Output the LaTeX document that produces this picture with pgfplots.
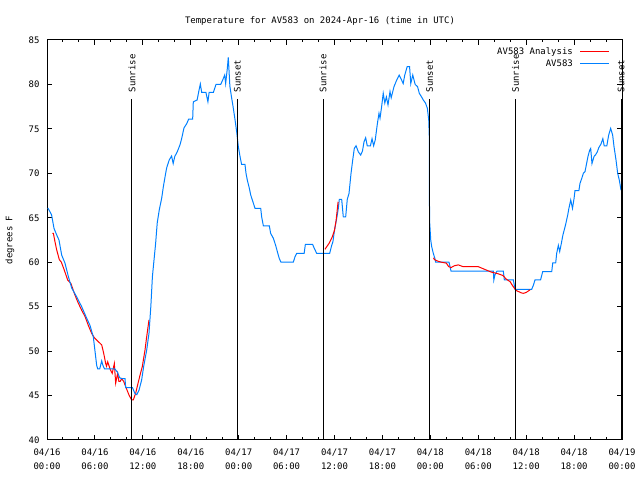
\documentclass[border=0pt]{standalone}
\usepackage{pgfplots}
\pgfplotsset{compat=1.18}
\usepackage{fontspec}
\setmainfont{DejaVu Sans Mono}
\definecolor{gpred}{RGB}{255,0,0}
\definecolor{gpblue}{RGB}{0,128,255}
\newcommand\gf{\fontsize{9}{14}\selectfont}
\begin{document}
\begin{tikzpicture}
\useasboundingbox (0bp,0bp) rectangle (640bp,480bp);
\begin{axis}[
  at={(47bp,40bp)}, anchor=south west,
  scale only axis, width=575bp, height=400bp,
  xmin=0, xmax=72, ymin=40, ymax=85,
  clip=false,
  axis line style={line width=1bp, black},
  tick style={line width=1bp, black},
  tick align=inside,
  major tick length=5bp, minor tick length=2.5bp,
  xtick={0,6,...,72},
  minor x tick num=2,
  xticklabels={{04/16\\00:00},{04/16\\06:00},{04/16\\12:00},{04/16\\18:00},{04/17\\00:00},{04/17\\06:00},{04/17\\12:00},{04/17\\18:00},{04/18\\00:00},{04/18\\06:00},{04/18\\12:00},{04/18\\18:00},{04/19\\00:00}},
  xticklabel style={align=center, font=\gf, yshift=-5bp},
  ytick={40,45,...,85},
  yticklabel style={font=\gf, xshift=-4bp},
  /pgf/number format/assume math mode=true,
  title={Temperature for AV583 on 2024-Apr-16 (time in UTC)},
  title style={font=\gf, at={(0.4748,1)}, anchor=base, yshift=11bp},
  ylabel={degrees F},
  ylabel style={font=\gf, at={(axis description cs:-0.0643,0.5)}, anchor=center},
  legend plot pos=right,
  legend cell align=right,
  legend image code/.code={\draw[#1] (0bp,0bp) -- (29bp,0bp);},
  legend style={at={(1,1)}, anchor=north east, xshift=-12bp, yshift=-7bp,
    draw=none, fill=none, inner sep=0pt, row sep=3bp, column sep=7bp,
    font=\gf, nodes={inner sep=0pt, text height=7bp, text depth=2bp}},
]
\addplot[gpred, line width=1bp] coordinates {
(0.67,63.25)(0.8,63.25)(1.0,62.3)(1.21,61.4)(1.54,60.3)(1.8,60.0)(2.17,59.1)(2.59,58.0)(3.0,57.6)(3.42,56.5)(3.84,55.56)(4.34,54.6)(4.76,53.9)(5.17,52.9)(5.59,52.0)(5.93,51.5)(6.43,51.06)(6.85,50.7)(7.1,49.75)(7.35,48.6)(7.45,48.3)(7.6,48.8)(7.93,47.9)(8.17,47.5)(8.43,48.6)(8.6,46.4)(8.84,47.5)(9.0,46.6)(9.17,46.6)(9.35,46.9)(9.6,46.6)(9.85,46.0)(10.27,45.06)(10.6,44.5)(10.8,44.5)(11.1,45.25)(11.35,46.2)(11.65,47.3)(11.93,48.25)(12.27,50.1)(12.48,51.6)(12.77,53.5)
};
\addlegendentry{AV583 Analysis}
\addplot[gpblue, line width=1bp] coordinates {
(0.1,66.1)(0.3,65.8)(0.58,65.3)(0.88,63.8)(1.2,63.1)(1.5,62.5)(1.84,60.8)(2.25,59.9)(2.67,58.4)(3.09,57.1)(3.72,56.1)(4.34,55.0)(4.97,53.7)(5.38,52.9)(5.8,51.6)(6.22,48.4)(6.35,48.0)(6.6,48.0)(6.85,48.9)(7.0,48.4)(7.2,48.0)(8.5,48.0)(8.84,47.6)(9.1,47.0)(9.35,46.9)(9.77,46.9)(9.85,45.9)(10.7,45.9)(11.0,45.25)(11.25,45.1)(11.52,45.6)(11.85,46.75)(12.1,48.25)(12.48,50.1)(12.77,52.0)(13.0,55.0)(13.2,58.4)(13.4,60.25)(13.6,62.1)(13.8,64.4)(14.06,65.9)(14.36,67.2)(14.57,68.5)(14.78,69.6)(14.98,70.6)(15.3,71.5)(15.6,71.95)(15.8,71.1)(16.0,71.9)(16.3,72.4)(16.65,73.2)(16.86,73.9)(17.15,75.1)(17.5,75.6)(17.74,76.1)(18.24,76.1)(18.32,78.05)(18.8,78.25)(19.0,79.2)(19.2,80.05)(19.37,79.1)(19.9,79.1)(20.15,78.05)(20.3,79.1)(20.83,79.1)(21.16,80.0)(21.75,80.0)(22.0,80.5)(22.25,81.06)(22.37,80.1)(22.58,81.8)(22.7,83.05)(22.9,79.8)(23.1,78.6)(23.3,77.5)(23.55,76.0)(23.76,74.6)(23.96,73.0)(24.17,71.9)(24.37,71.0)(24.79,71.0)(24.92,70.0)(25.08,69.25)(25.34,68.3)(25.51,67.56)(25.71,67.0)(26.05,66.06)(26.76,66.06)(26.88,65.1)(27.09,64.1)(27.84,64.1)(28.0,63.25)(28.34,62.7)(28.63,61.9)(28.84,61.2)(29.09,60.4)(29.3,60.0)(30.84,60.0)(31.05,60.6)(31.26,61.0)(32.2,61.0)(32.35,62.0)(33.26,62.0)(33.47,61.56)(33.77,61.0)(35.4,61.0)(35.65,61.9)(35.8,62.3)(36.0,63.6)(36.27,64.9)(36.48,66.06)(36.6,67.07)(36.9,67.07)(37.1,65.1)(37.4,65.1)(37.6,67.07)(37.82,67.75)(38.07,70.0)(38.28,71.5)(38.48,72.8)(38.7,73.1)(38.99,72.4)(39.28,72.06)(39.5,72.5)(39.7,73.56)(39.9,74.0)(40.1,73.1)(40.5,73.1)(40.7,73.9)(40.9,73.1)(41.1,73.75)(41.37,75.6)(41.57,76.75)(41.7,76.2)(41.9,77.5)(42.1,79.0)(42.3,77.9)(42.5,78.6)(42.7,77.7)(42.95,79.2)(43.1,78.5)(43.45,79.75)(43.79,80.5)(44.1,81.06)(44.3,80.7)(44.6,80.1)(44.8,81.06)(45.1,82.0)(45.4,82.0)(45.55,80.1)(45.8,81.06)(46.1,80.0)(46.4,79.75)(46.62,79.0)(46.9,78.6)(47.12,78.25)(47.4,77.9)(47.63,77.3)(47.8,76.0)(47.87,74.1)(47.9,64.75)(48.05,62.5)(48.17,61.75)(48.37,61.0)(48.58,60.4)(48.67,60.0)(50.34,60.0)(50.59,59.0)(55.89,59.0)(55.95,58.0)(56.1,58.6)(56.35,59.0)(57.14,59.0)(57.27,58.0)(58.4,58.0)(58.6,56.95)(60.69,56.95)(60.9,57.4)(61.1,58.0)(61.8,58.0)(62.07,58.94)(63.2,58.94)(63.33,59.94)(63.7,59.94)(63.82,61.0)(64.03,61.9)(64.2,61.2)(64.4,62.1)(64.6,63.06)(64.93,64.2)(65.2,65.3)(65.35,66.06)(65.58,67.0)(65.8,66.06)(66.0,67.2)(66.11,68.05)(66.6,68.05)(66.74,68.87)(66.95,69.4)(67.16,70.0)(67.37,70.2)(67.5,70.8)(67.74,71.9)(67.95,72.6)(68.08,72.8)(68.24,71.1)(68.5,71.9)(68.7,72.1)(68.9,72.4)(69.1,72.9)(69.37,73.3)(69.6,73.9)(69.77,73.1)(70.1,73.1)(70.33,74.3)(70.58,75.06)(70.83,74.3)(71.0,73.0)(71.25,71.5)(71.46,70.0)(71.66,69.25)(71.88,68.1)
};
\addlegendentry{AV583}
\addplot[gpred, line width=1bp, forget plot] coordinates {
(34.8,61.45)(35.3,62.1)(35.7,62.8)(36.0,63.6)(36.2,64.7)(36.45,66.8)
};
\addplot[gpred, line width=1bp, forget plot] coordinates {
(48.4,60.5)(48.5,60.3)(49.0,60.1)(49.4,60.0)(50.0,59.9)(50.3,59.5)(50.6,59.4)(51.0,59.6)(51.5,59.7)(52.1,59.5)(54.0,59.5)(54.8,59.2)(55.6,58.9)(56.5,58.7)(57.1,58.5)(57.5,58.1)(58.0,57.8)(58.2,57.5)(58.5,57.1)(58.8,56.8)(59.4,56.55)(59.65,56.5)(60.0,56.6)(60.5,56.9)
};
\addplot[black, line width=1bp, forget plot] coordinates {(10.64,40)(10.64,78.4)};
\addplot[black, line width=1bp, forget plot] coordinates {(23.85,40)(23.85,78.4)};
\addplot[black, line width=1bp, forget plot] coordinates {(34.56,40)(34.56,78.4)};
\addplot[black, line width=1bp, forget plot] coordinates {(47.9,40)(47.9,78.4)};
\addplot[black, line width=1bp, forget plot] coordinates {(58.67,40)(58.67,78.4)};
\addplot[black, line width=1bp, forget plot] coordinates {(71.88,40)(71.88,78.4)};
\node[rotate=90, anchor=west, font=\gf, inner sep=0pt] at (axis cs:10.64,79.1) {Sunrise};
\node[rotate=90, anchor=west, font=\gf, inner sep=0pt] at (axis cs:23.85,79.1) {Sunset};
\node[rotate=90, anchor=west, font=\gf, inner sep=0pt] at (axis cs:34.56,79.1) {Sunrise};
\node[rotate=90, anchor=west, font=\gf, inner sep=0pt] at (axis cs:47.9,79.1) {Sunset};
\node[rotate=90, anchor=west, font=\gf, inner sep=0pt] at (axis cs:58.67,79.1) {Sunrise};
\node[rotate=90, anchor=west, font=\gf, inner sep=0pt] at (axis cs:71.88,79.1) {Sunset};
\end{axis}
\end{tikzpicture}
\end{document}
